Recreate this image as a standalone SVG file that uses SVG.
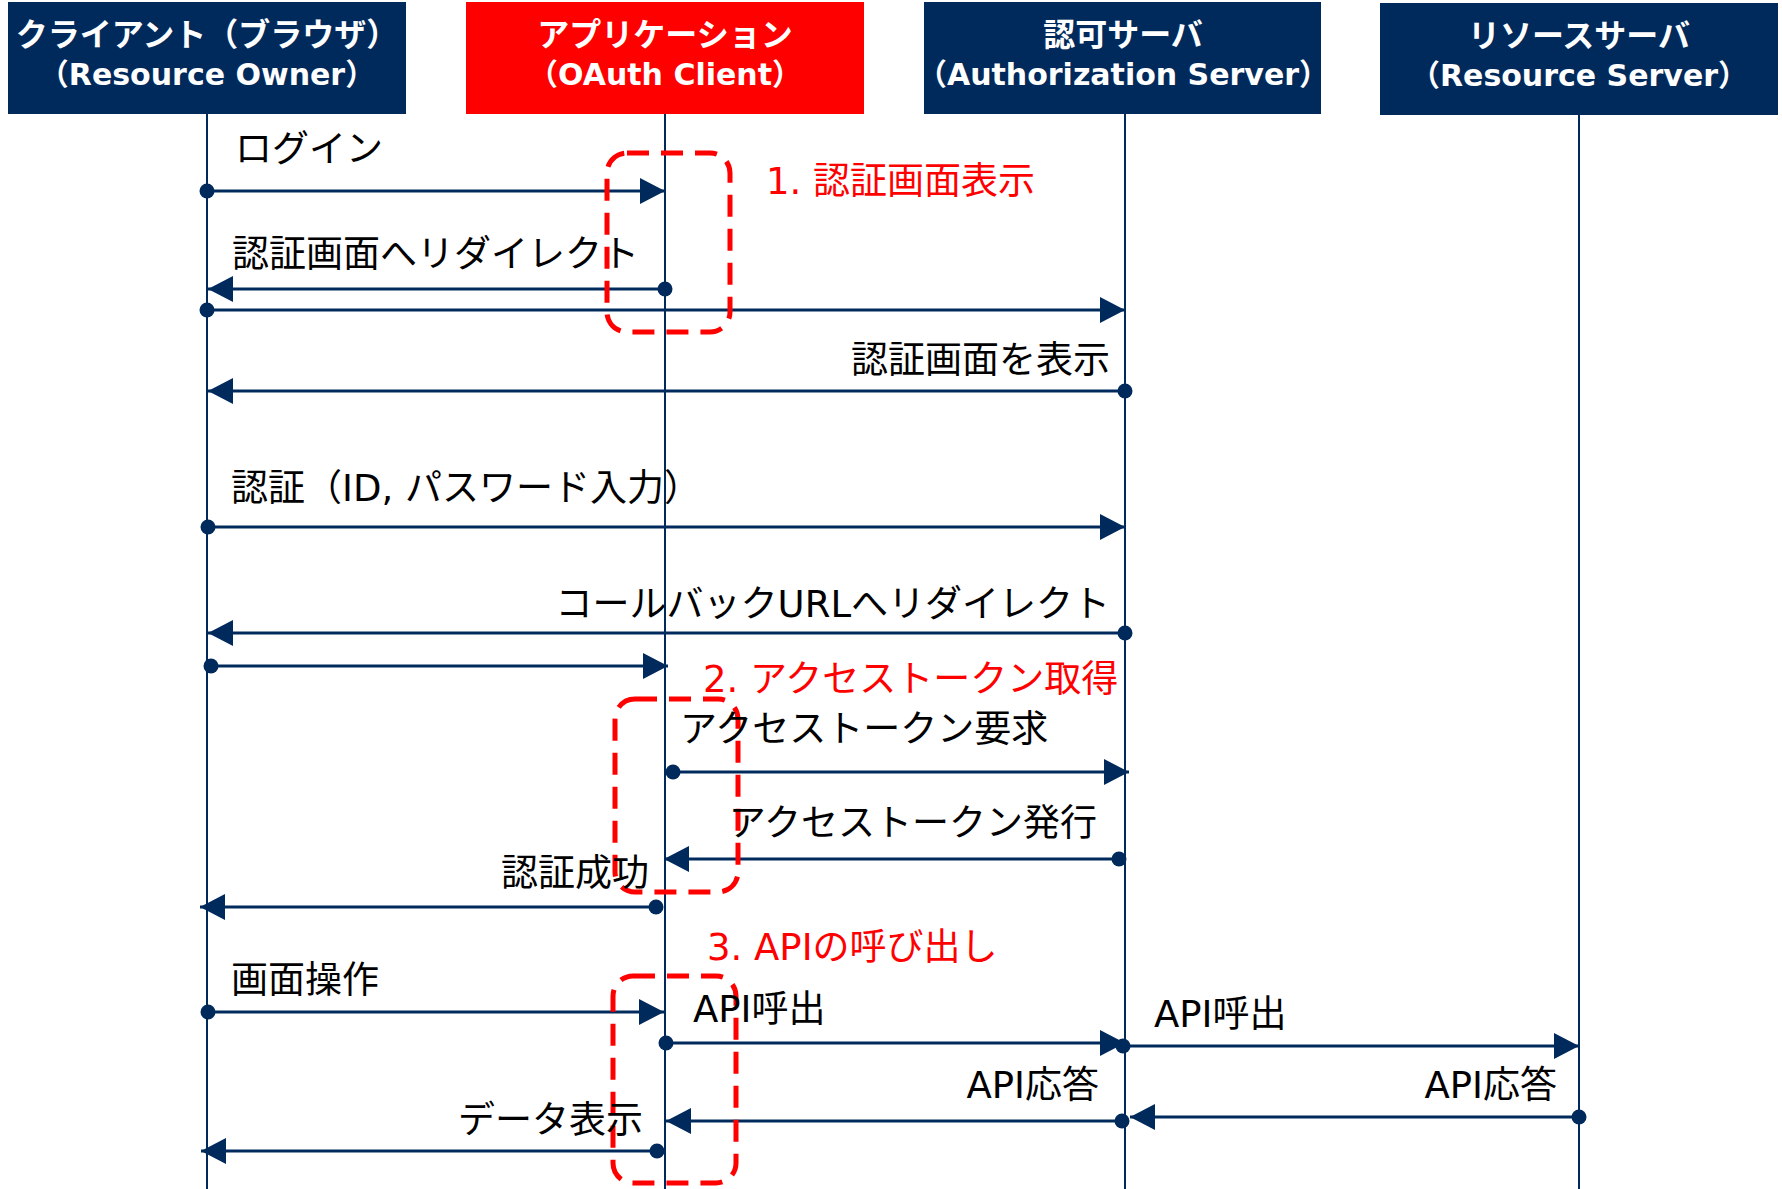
<svg xmlns="http://www.w3.org/2000/svg" width="1782" height="1189" viewBox="0 0 1782 1189">
<style>
.hdr{fill:#002a5c}
.hdrr{fill:#ff0000}
.ht{font-family:"DejaVu Sans","Noto Sans CJK JP",sans-serif;font-weight:bold;font-size:32px;fill:#ffffff;text-anchor:middle}
.ht2{font-size:30px}
.life{stroke:#002a5c;stroke-width:2;fill:none}
.msg{stroke:#002a5c;stroke-width:3;fill:none;marker-start:url(#dot);marker-end:url(#arr)}
.lbl{font-family:"DejaVu Sans","Noto Sans CJK JP",sans-serif;font-size:37px;fill:#000000}
.red{font-family:"DejaVu Sans","Noto Sans CJK JP",sans-serif;font-size:37px;fill:#ff0000}
.end{text-anchor:end}
.step{fill:none;stroke:#ff0000;stroke-width:5;stroke-dasharray:22 12}
</style>
<defs>
<marker id="arr" markerUnits="userSpaceOnUse" markerWidth="26" markerHeight="28" viewBox="0 0 26 28" refX="25" refY="14" orient="auto"><path d="M0,1 L25,14 L0,27 z" fill="#002a5c"/></marker>
<marker id="dot" markerUnits="userSpaceOnUse" markerWidth="18" markerHeight="18" viewBox="0 0 18 18" refX="9" refY="9"><circle cx="9" cy="9" r="7.5" fill="#002a5c"/></marker>
</defs>
<rect width="1782" height="1189" fill="#ffffff"/>

<g id="client">
<rect class="hdr" x="8" y="2" width="398" height="112"/>
<text class="ht" x="207" y="46">クライアント（ブラウザ）</text>
<text class="ht ht2" x="207" y="85">（Resource Owner）</text>
<line class="life" x1="207" y1="114" x2="207" y2="1189"/>
</g>
<g id="app">
<rect class="hdrr" x="466" y="2" width="398" height="112"/>
<text class="ht" x="665" y="46">アプリケーション</text>
<text class="ht ht2" x="665" y="85">（OAuth Client）</text>
<line class="life" x1="665" y1="114" x2="665" y2="1189"/>
</g>
<g id="authz">
<rect class="hdr" x="924" y="2" width="397" height="112"/>
<text class="ht" x="1123" y="46">認可サーバ</text>
<text class="ht ht2" x="1123" y="85">（Authorization Server）</text>
<line class="life" x1="1125" y1="114" x2="1125" y2="1189"/>
</g>
<g id="resource">
<rect class="hdr" x="1380" y="3" width="398" height="112"/>
<text class="ht" x="1579" y="47">リソースサーバ</text>
<text class="ht ht2" x="1579" y="86">（Resource Server）</text>
<line class="life" x1="1579" y1="115" x2="1579" y2="1189"/>
</g>

<g id="connectors">
<line class="msg" x1="207" y1="191" x2="665" y2="191"/>
<line class="msg" x1="665" y1="289" x2="208" y2="289"/>
<line class="msg" x1="207" y1="310" x2="1125" y2="310"/>
<line class="msg" x1="1125" y1="391" x2="208" y2="391"/>
<line class="msg" x1="208" y1="527" x2="1125" y2="527"/>
<line class="msg" x1="1125" y1="633" x2="208" y2="633"/>
<line class="msg" x1="211" y1="666" x2="668" y2="666"/>
<line class="msg" x1="673" y1="772" x2="1129" y2="772"/>
<line class="msg" x1="1119" y1="859" x2="664" y2="859"/>
<line class="msg" x1="656" y1="907" x2="200" y2="907"/>
<line class="msg" x1="208" y1="1012" x2="664" y2="1012"/>
<line class="msg" x1="666" y1="1043" x2="1125" y2="1043"/>
<line class="msg" x1="1123" y1="1046" x2="1579" y2="1046"/>
<line class="msg" x1="1579" y1="1117" x2="1130" y2="1117"/>
<line class="msg" x1="1122" y1="1121" x2="666" y2="1121"/>
<line class="msg" x1="657" y1="1151" x2="201" y2="1151"/>
</g>

<g id="steps">
<rect class="step" x="607" y="153" width="123" height="179" rx="20"/>
<rect class="step" x="615" y="699" width="123" height="193" rx="20"/>
<rect class="step" x="613" y="976" width="123" height="207" rx="20"/>
<text class="red" x="766" y="194">1. 認証画面表示</text>
<text class="red" x="703" y="692">2. アクセストークン取得</text>
<text class="red" x="707" y="960">3. APIの呼び出し</text>
</g>

<g id="labels">
<text class="lbl" x="235" y="162">ログイン</text>
<text class="lbl" x="232" y="267">認証画面へリダイレクト</text>
<text class="lbl end" x="1110" y="373">認証画面を表示</text>
<text class="lbl" x="231" y="501">認証（ID, パスワード入力）</text>
<text class="lbl end" x="1110" y="617">コールバックURLへリダイレクト</text>
<text class="lbl" x="680" y="742">アクセストークン要求</text>
<text class="lbl end" x="1097" y="836">アクセストークン発行</text>
<text class="lbl end" x="649" y="886">認証成功</text>
<text class="lbl" x="231" y="993">画面操作</text>
<text class="lbl" x="693" y="1022">API呼出</text>
<text class="lbl" x="1154" y="1027">API呼出</text>
<text class="lbl end" x="1099" y="1098">API応答</text>
<text class="lbl end" x="1557" y="1098">API応答</text>
<text class="lbl end" x="643" y="1133">データ表示</text>
</g>
</svg>
